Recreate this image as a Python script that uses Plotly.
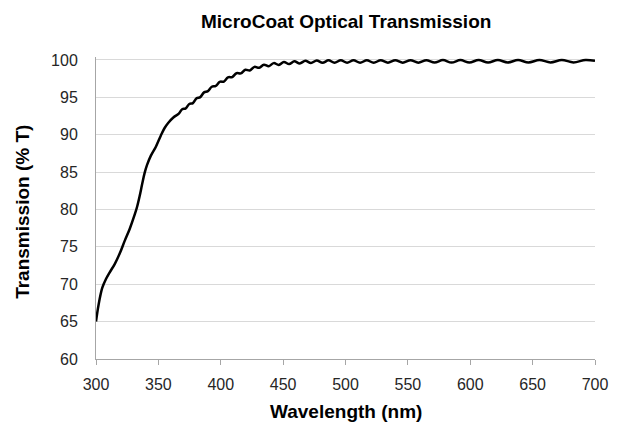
import plotly.graph_objects as go

# Wavelength (nm) and transmission (% T)
wavelength = [
    300, 302, 305, 308, 311, 315, 319, 323, 327, 331, 333, 335, 337, 339, 341,
    344, 348, 352, 355, 358, 362,
    366.4, 369.1, 371.9, 374.8, 377.7, 380.6, 383.6, 386.6, 389.7, 392.8,
    396.0, 399.2, 402.5, 405.8, 409.2, 412.6, 416.1, 419.7, 423.3, 427.0,
    430.8, 434.6, 438.5, 442.5, 446.5, 450.6, 454.8, 459.0, 463.3, 467.8,
    472.3, 476.9, 481.6, 486.4, 491.2, 496.2, 501.3, 506.4, 511.7, 517.1,
    522.6, 528.2, 534.0, 539.9, 545.9, 552.1, 558.4, 564.8, 571.4, 578.1,
    585.0, 592.1, 599.3, 606.7, 614.3, 622.1, 630.1, 638.3, 646.7, 655.4,
    664.3, 673.4, 682.8, 692.4, 700,
]
transmission = [
    65.0, 67.2, 69.5, 70.7, 71.6, 72.7, 74.1, 75.8, 77.4, 79.3, 80.4, 81.8, 83.4, 84.9, 86.0,
    87.2, 88.4, 89.9, 90.9, 91.6, 92.3,
    92.83, 93.42, 93.53, 94.12, 94.23, 94.87, 95.03, 95.67, 95.83, 96.42,
    96.53, 97.08, 97.12, 97.68, 97.72, 98.23, 98.21, 98.70, 98.60, 99.08,
    98.95, 99.37, 99.17, 99.58, 99.34, 99.73, 99.46, 99.82, 99.54, 99.89,
    99.59, 99.93, 99.62, 99.95, 99.63, 99.97, 99.63, 99.97, 99.63, 99.97,
    99.63, 99.97, 99.64, 99.98, 99.64, 99.98, 99.64, 99.98, 99.65, 99.99,
    99.65, 99.99, 99.66, 100.0, 99.66, 100.0, 99.67, 100.0, 99.67, 100.0,
    99.68, 100.0, 99.68, 100.0, 99.88,
]

x_ticks = [300, 350, 400, 450, 500, 550, 600, 650, 700]
y_ticks = [60, 65, 70, 75, 80, 85, 90, 95, 100]

title_text = "MicroCoat Optical Transmission"
x_title = "Wavelength (nm)"
y_title = "Transmission (% T)"

FONT = "Liberation Sans, Arial, sans-serif"

fig = go.Figure()
fig.add_trace(go.Scatter(
    x=wavelength, y=transmission, mode="lines",
    line=dict(color="#000000", width=2.5, shape="spline", smoothing=1.0),
    hoverinfo="x+y", showlegend=False,
))

fig.update_layout(
    width=619, height=433,
    margin=dict(l=96, r=24, t=57, b=74),
    paper_bgcolor="white", plot_bgcolor="white",
    font=dict(family=FONT, color="#262626"),
    xaxis=dict(
        range=[300, 700], tickvals=x_ticks, ticktext=[str(v) for v in x_ticks],
        showgrid=False, zeroline=False,
        showline=True, linecolor="#a6a6a6", linewidth=1,
        ticks="outside", ticklen=5, tickcolor="#a6a6a6", tickwidth=1,
        ticklabelstandoff=6,
        tickfont=dict(size=16, family=FONT, color="#262626"),
    ),
    yaxis=dict(
        range=[60, 100.4], tickvals=y_ticks, ticktext=[str(v) for v in y_ticks],
        showgrid=True, gridcolor="#d9d9d9", gridwidth=1, zeroline=False,
        showline=True, linecolor="#a6a6a6", linewidth=1,
        ticks="", ticklabelstandoff=14,
        tickfont=dict(size=16, family=FONT, color="#262626"),
    ),
    annotations=[
        dict(text="<b>" + title_text + "</b>", xref="paper", yref="paper",
             x=0.5, y=1 + (57 - 22) / 302, xanchor="center", yanchor="middle",
             showarrow=False, font=dict(size=19, family=FONT, color="#000000")),
        dict(text="<b>" + x_title + "</b>", xref="paper", yref="paper",
             x=0.5, y=-(411 - 359) / 302, xanchor="center", yanchor="middle",
             showarrow=False, font=dict(size=19, family=FONT, color="#000000")),
        dict(text="<b>" + y_title + "</b>", xref="paper", yref="paper",
             x=(22 - 96) / 498, y=(359 - 212) / 302, xanchor="center", yanchor="middle",
             textangle=-90,
             showarrow=False, font=dict(size=19, family=FONT, color="#000000")),
    ],
)

fig.write_html("out.html")
